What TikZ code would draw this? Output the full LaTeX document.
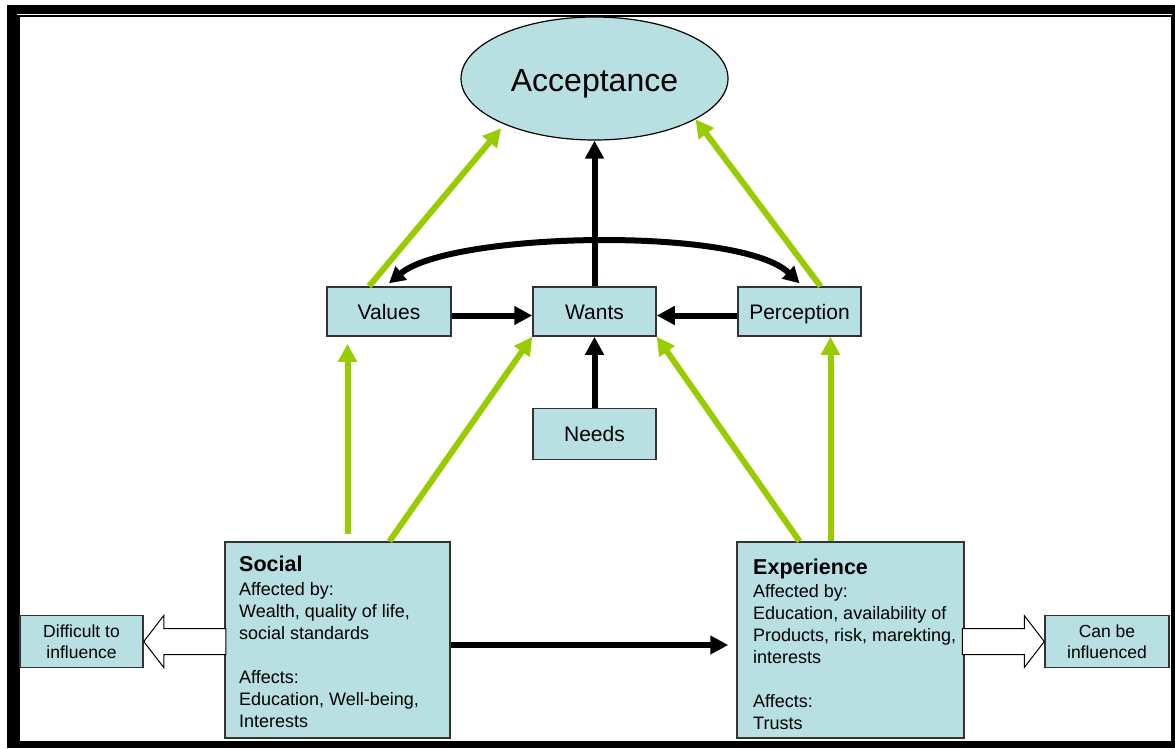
\documentclass[tikz,border=0pt]{standalone}
\usepackage{fontspec}
\setmainfont{Liberation Sans}
\usepackage{tikz}
\usetikzlibrary{shapes.geometric,arrows.meta}
\definecolor{myboxcolor}{HTML}{B8DFE2}
\definecolor{myedgecolor}{HTML}{333333}
\definecolor{mygreen}{HTML}{99CC00}
\tikzset{
  mybox/.style={draw=myedgecolor, line width=1.5pt, fill=myboxcolor, rectangle, inner sep=0pt},
  mylabel/.style={text height=15pt, text depth=0pt},
  mytext/.style={anchor=base west, align=left, inner sep=0pt, font=\fontsize{18pt}{22pt}\selectfont},
  blackarrow/.style={draw=black, line width=6pt, ->},
  greenarrow/.style={draw=mygreen, line width=6pt, ->},
  hollowarrow/.style={draw=black, fill=white, line width=1pt, line join=miter},
}

\begin{document}
\begin{tikzpicture}[x=1pt, y=-1pt, >={Triangle[length=18pt,width=18pt]}]%
\useasboundingbox (0,0) rectangle (1175,748);%
\fill[black] (7,5) rectangle (1175,748);%
\fill[white] (20,17) rectangle (1171,741);%
\draw[white, line width=1pt] (17,14.5) -- (1172,14.5);%
\node[mybox, ellipse, draw=black, line width=1.2pt, minimum width=267pt, minimum height=123pt, text height=26pt, text depth=0pt] (accept) at (594.5, 78.5) {\fontsize{32pt}{32pt}\selectfont Acceptance};%
\node[mybox, mylabel, minimum width=124pt, minimum height=49pt] (values) at (389, 311.5) {\fontsize{21pt}{21pt}\selectfont Values};%
\node[mybox, mylabel, minimum width=123pt, minimum height=49pt] (wants) at (594.5, 311.5) {\fontsize{21pt}{21pt}\selectfont Wants};%
\node[mybox, mylabel, minimum width=123pt, minimum height=49pt] (perc) at (799.5, 311.5) {\fontsize{21pt}{21pt}\selectfont Perception};%
\node[mybox, mylabel, minimum width=123pt, minimum height=51pt] (needs) at (594.5, 434) {\fontsize{21pt}{21pt}\selectfont Needs};%
\node[mybox, minimum width=225pt, minimum height=196pt] (social) at (337.5, 640) {};%
\node[mybox, minimum width=227pt, minimum height=196pt] (exp) at (850.5, 640) {};%
\node[mybox, minimum width=123pt, minimum height=52pt, align=center, font=\fontsize{17.5pt}{21pt}\selectfont] (diff) at (81.5, 641.5) {Difficult to\\influence};%
\node[mybox, minimum width=124pt, minimum height=52pt, align=center, font=\fontsize{17.5pt}{21pt}\selectfont] (can) at (1107, 641.5) {Can be\\influenced};%
\node[mytext] (socialtext) at (239, 727) {{\fontsize{21.5pt}{22pt}\selectfont\bfseries Social}\\[2pt]Affected by:\\Wealth, quality of life,\\social standards\\[22pt]Affects:\\Education, Well-being,\\Interests};%
\node[mytext] (exptext) at (753, 729) {{\fontsize{21.5pt}{22pt}\selectfont\bfseries Experience}\\[1pt]Affected by:\\Education, availability of\\Products, risk, marekting, i\\interests\\[22pt]Affects:\\Trusts};%
\draw[greenarrow, shorten >=5pt] ([xshift=-20pt]values.north) -- (accept.207);%
\draw[greenarrow] ([xshift=21pt]perc.north) -- (accept.-22);%
\draw[greenarrow, shorten <=7pt, shorten >=7pt] ([xshift=10pt]social.north) -- ([xshift=10pt]social.north |- values.south);%
\draw[greenarrow] ([xshift=52pt]social.north) -- (wants.south west);%
\draw[greenarrow] ([xshift=-51pt]exp.north) -- (wants.south east);%
\draw[greenarrow] ([xshift=-20pt]exp.north) -- ([xshift=-20pt]exp.north |- perc.south);%
\draw[blackarrow] (wants.north) -- (accept.south);%
\draw[blackarrow] ([yshift=-4pt]values.east) -- ([yshift=-4pt]wants.west);%
\draw[blackarrow] ([yshift=-4pt]perc.west) -- ([yshift=-4pt]wants.east);%
\draw[blackarrow] (needs.north) -- (wants.south);%
\draw[blackarrow, shorten >=8pt] ([yshift=-5pt]social.east) -- ([yshift=-5pt]exp.west);%
\draw[blackarrow, <->, >={Triangle[length=16pt,width=17pt]}] ([yshift=3pt]values.north) .. controls (450,232) and (740,226) .. ([yshift=3pt]perc.north);%
\draw[hollowarrow] (diff.east) -- ++(20,-26) -- ++(0,13) -- ++(62,0) -- ++(0,26) -- ++(-62,0) -- ++(0,13) -- cycle;%
\draw[hollowarrow] (can.west) -- ++(-20,-26) -- ++(0,13) -- ++(-62,0) -- ++(0,26) -- ++(62,0) -- ++(0,13) -- cycle;%
\end{tikzpicture}
\end{document}
